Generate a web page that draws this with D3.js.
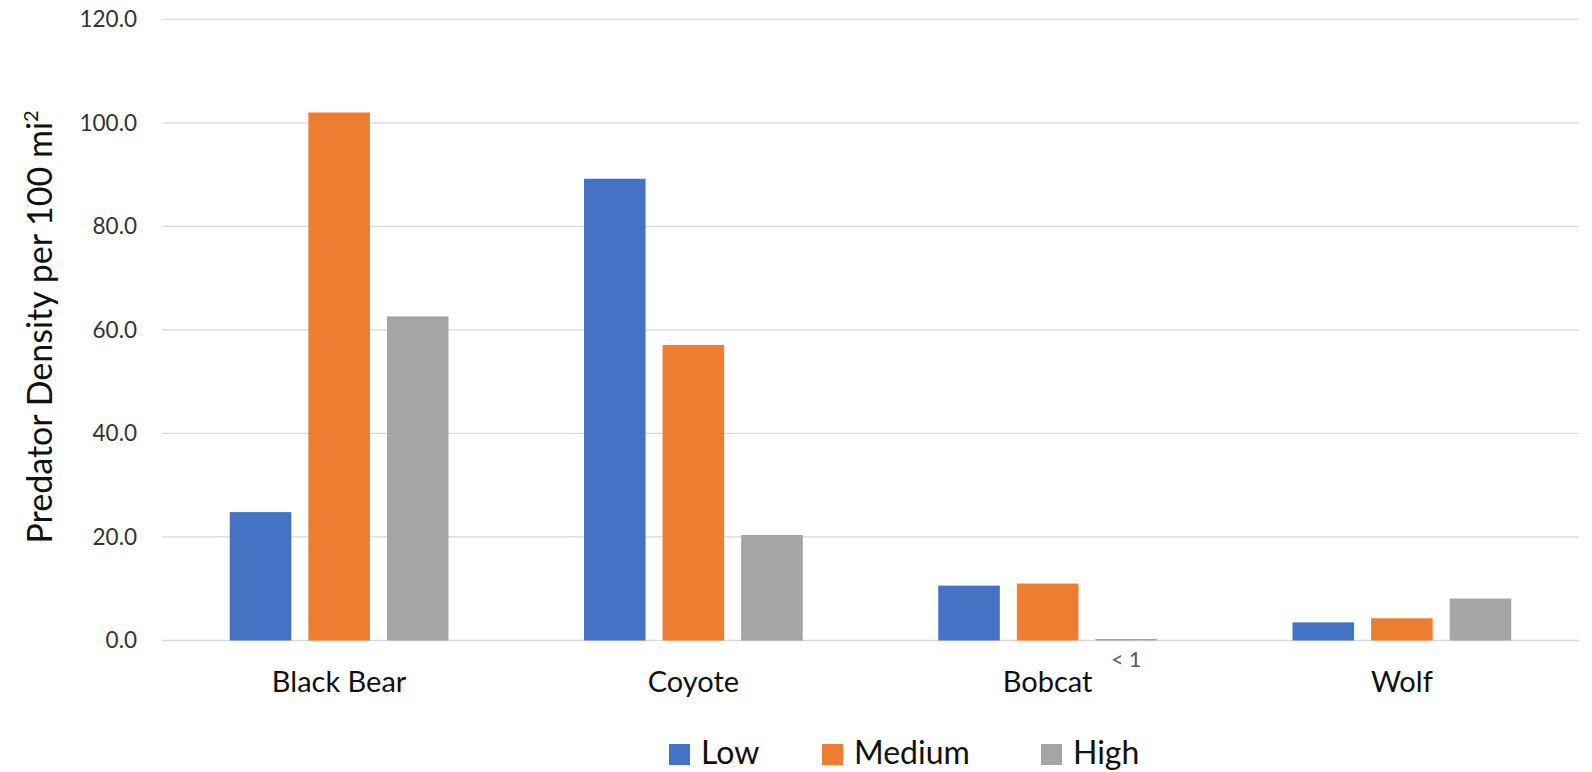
<!DOCTYPE html>
<html>
<head>
<meta charset="utf-8">
<script src="https://cdn.jsdelivr.net/npm/d3@7"></script>
<style>
  html, body { margin: 0; padding: 0; background: #fff; }
  svg { display: block; font-family: Lato, "Open Sans", sans-serif; }
</style>
</head>
<body>
<svg id="chart" width="1592" height="772"></svg>
<script>
// Predator density by habitat class
const species = ["Black Bear", "Coyote", "Bobcat", "Wolf"];
const seriesNames = ["Low", "Medium", "High"];
const lowValues = [24.8, 89.2, 10.6, 3.5];
const mediumValues = [102.0, 57.1, 11.0, 4.3];
const highValues = [62.6, 20.4, 0.3, 8.1];
const yTicks = [0, 20, 40, 60, 80, 100, 120];
const seriesColors = ["#4472C4", "#ED7D31", "#A5A5A5"];

const seriesValues = [lowValues, mediumValues, highValues];
const rows = species.map((s, i) => ({
  species: s,
  values: seriesNames.map((n, k) => ({ key: n, value: seriesValues[k][i] }))
}));

const svg = d3.select("#chart");
const plot = { left: 162, right: 1579, top: 19.3, bottom: 640.5 };

const y = d3.scaleLinear().domain([0, 120]).range([plot.bottom, plot.top]);
const x0 = d3.scaleBand().domain(species).range([plot.left, plot.right]).padding(0);
const groupPad = 67.75;
const x1 = d3.scaleBand().domain(seriesNames)
  .range([groupPad, x0.bandwidth() - groupPad])
  .paddingInner(0.2166).paddingOuter(0);
const color = d3.scaleOrdinal().domain(seriesNames).range(seriesColors);

// horizontal gridlines
svg.append("g")
  .selectAll("line")
  .data(yTicks)
  .join("line")
  .attr("x1", plot.left).attr("x2", plot.right)
  .attr("y1", d => y(d)).attr("y2", d => y(d))
  .attr("stroke", "#D9D9D9").attr("stroke-width", 1.3);

// y axis tick labels
const yAxis = d3.axisLeft(y).tickValues(yTicks).tickFormat(d3.format(".1f")).tickSize(0).tickPadding(0);
const yAxisG = svg.append("g").attr("transform", "translate(137,0)").call(yAxis);
yAxisG.select(".domain").remove();
yAxisG.selectAll("text")
  .attr("font-family", "Lato, sans-serif")
  .attr("font-size", 22.5)
  .attr("fill", "#333");

// bars
const groups = svg.append("g")
  .selectAll("g")
  .data(rows)
  .join("g")
  .attr("transform", d => `translate(${x0(d.species)},0)`);

groups.selectAll("rect")
  .data(d => d.values)
  .join("rect")
  .attr("x", d => x1(d.key))
  .attr("width", x1.bandwidth())
  .attr("y", d => y(d.value))
  .attr("height", d => y(0) - y(d.value))
  .attr("fill", d => color(d.key));

// category axis
const xAxis = d3.axisBottom(x0).tickSize(0).tickPadding(0);
const xAxisG = svg.append("g").attr("transform", `translate(0,${plot.bottom})`).call(xAxis);
xAxisG.select(".domain").remove();
xAxisG.selectAll("text")
  .attr("font-family", "Lato, sans-serif")
  .attr("font-size", 29)
  .attr("fill", "#111")
  .attr("dy", null)
  .attr("y", 51);

// annotation for the tiny bobcat value
const bobcat = rows.find(r => r.species === "Bobcat");
const bobcatHigh = bobcat.values.find(v => v.key === "High");
svg.append("text")
  .attr("x", x0("Bobcat") + x1("High") + x1.bandwidth() / 2)
  .attr("y", y(bobcatHigh.value) + 28)
  .attr("text-anchor", "middle")
  .attr("font-size", 21)
  .attr("fill", "#595959")
  .text("< 1");

// y axis title
svg.append("text")
  .attr("transform", `translate(52,${(plot.top + plot.bottom) / 2 - 3}) rotate(-90)`)
  .attr("text-anchor", "middle")
  .attr("font-size", 34)
  .attr("fill", "#111")
  .html('Predator Density per 100 mi<tspan dy="-14" font-size="20">2</tspan>');

// legend
const legendItems = [
  { key: "Low", x: 669 },
  { key: "Medium", x: 822 },
  { key: "High", x: 1041 }
];
const legend = svg.append("g")
  .selectAll("g")
  .data(legendItems)
  .join("g")
  .attr("transform", d => `translate(${d.x},744)`);
legend.append("rect")
  .attr("width", 21).attr("height", 21)
  .attr("fill", d => color(d.key));
legend.append("text")
  .attr("x", 32).attr("y", 20)
  .attr("font-size", 32)
  .attr("fill", "#111")
  .text(d => d.key);
</script>
</body>
</html>
